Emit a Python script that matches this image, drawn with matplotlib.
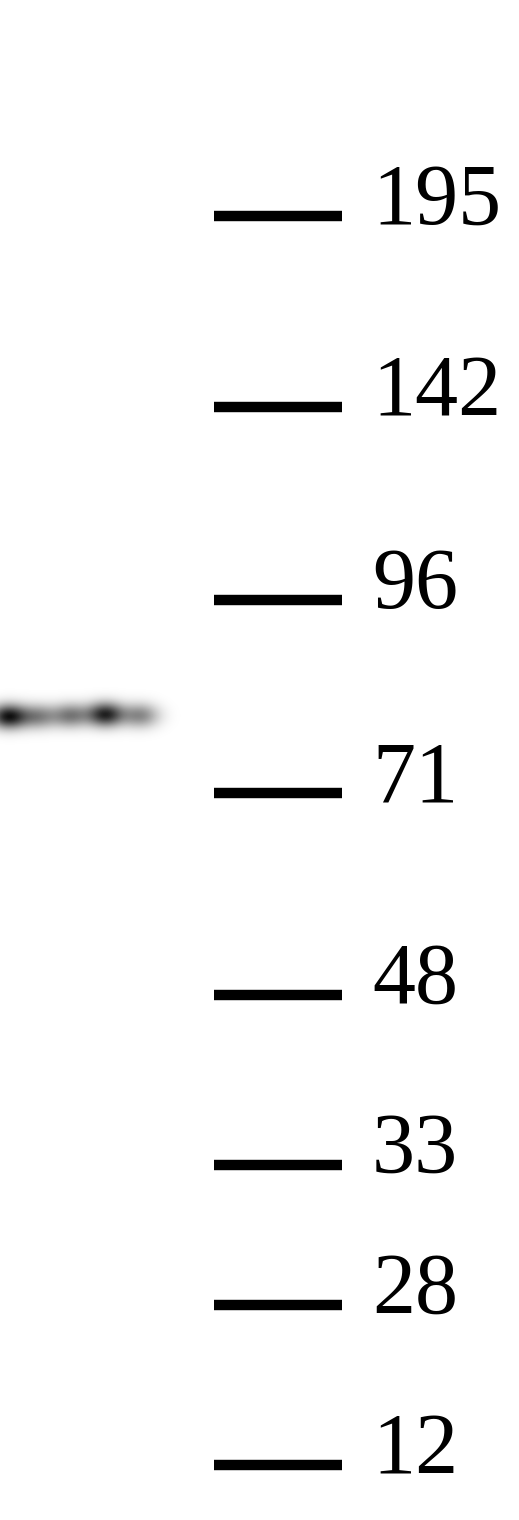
import matplotlib
matplotlib.use("Agg")
import matplotlib.pyplot as plt
import numpy as np

# marker ladder (kDa) and row positions on the blot (pixels from top)
marker_labels = ["195", "142", "96", "71", "48", "33", "28", "12"]
marker_rows = [216, 407, 600, 793, 995, 1165, 1305, 1465]

# band: spots along the lane (x, y, intensity)
band_x = [8, 38, 70, 105, 140]
band_y = [716, 716, 715, 714, 715]
band_amp = [0.9, 0.45, 0.5, 0.85, 0.45]

fig = plt.figure(figsize=(5.19, 15.2), dpi=100)
ax = fig.add_axes([0, 0, 1, 1])
ax.set_xlim(0, 519)
ax.set_ylim(1520, 0)
ax.axis("off")

# band image
gx = np.arange(0, 200)
gy = np.arange(660, 770)
X, Y = np.meshgrid(gx, gy)
img = np.zeros_like(X, dtype=float)
for bx, by, a in zip(band_x, band_y, band_amp):
    img += a * np.exp(-((X - bx) ** 2) / (2 * 13 ** 2) - ((Y - by) ** 2) / (2 * 8.5 ** 2))
img = np.clip(img, 0, 1)
ax.imshow(img, cmap="gray_r", vmin=0, vmax=1, extent=(0, 200, 770, 660),
          aspect="auto", interpolation="bilinear")

# markers
for lab, row in zip(marker_labels, marker_rows):
    ax.plot([214, 342], [row, row], color="black", lw=7.5, solid_capstyle="butt")
    ax.text(372, row + 8, lab, fontsize=62, family="Liberation Serif",
            ha="left", va="baseline", color="black")

fig.savefig("out.png", dpi=100, facecolor="white")
